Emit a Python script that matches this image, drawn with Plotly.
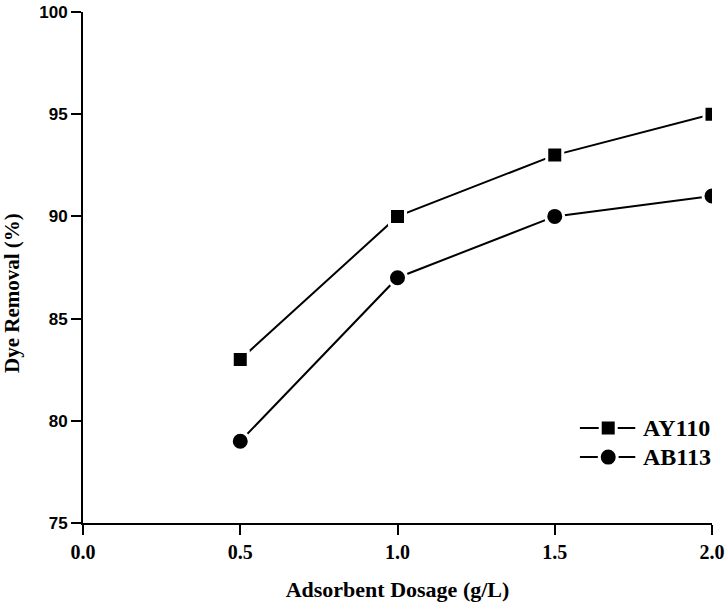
import plotly.graph_objects as go

dosage = [0.5, 1.0, 1.5, 2.0]
ay110 = [83, 90, 93, 95]
ab113 = [79, 87, 90, 91]
series_names = ["AY110", "AB113"]
series_symbols = ["square", "circle"]

serif = "Liberation Serif, Times New Roman, serif"
sans = "Liberation Sans, Arial, sans-serif"

fig = go.Figure()
fig.add_trace(go.Scatter(
    x=dosage, y=ay110, name=series_names[0], mode="lines+markers",
    line=dict(color="black", width=2),
    marker=dict(symbol="square", size=16, color="black",
                line=dict(color="white", width=3)),
))
fig.add_trace(go.Scatter(
    x=dosage, y=ab113, name=series_names[1], mode="lines+markers",
    line=dict(color="black", width=2),
    marker=dict(symbol="circle", size=18, color="black",
                line=dict(color="white", width=3)),
))

# custom legend (layout elements in paper coordinates)
legend_rows_y = [0.186, 0.129]
line_x0, line_x1, mark_x, text_x = 0.790, 0.878, 0.835, 0.887
shapes = []
annotations = []
for name, sym, ly in zip(series_names, series_symbols, legend_rows_y):
    shapes.append(dict(type="line", xref="paper", yref="paper",
                       x0=line_x0, x1=line_x1, y0=ly, y1=ly,
                       line=dict(color="black", width=2)))
    half = 8 if sym == "square" else 9
    shapes.append(dict(type="rect" if sym == "square" else "circle",
                       xref="paper", yref="paper",
                       xsizemode="pixel", ysizemode="pixel",
                       xanchor=mark_x, yanchor=ly,
                       x0=-half, x1=half, y0=-half, y1=half,
                       fillcolor="black", line=dict(color="white", width=3)))
    annotations.append(dict(text=name, xref="paper", yref="paper",
                            x=text_x, y=ly, xanchor="left", yanchor="middle",
                            showarrow=False,
                            font=dict(family=serif, size=24, color="black", weight="bold")))

annotations.append(dict(
    text="Dye Removal (%)", textangle=-90,
    xref="paper", yref="paper", x=-0.113, y=0.450,
    xanchor="center", yanchor="middle", showarrow=False,
    font=dict(family=serif, size=21, color="black", weight="bold"),
))

fig.update_layout(
    width=727, height=604,
    margin=dict(l=83, r=15, t=12, b=81),
    paper_bgcolor="white", plot_bgcolor="white",
    showlegend=False,
    xaxis=dict(
        range=[0, 2], dtick=0.5, tick0=0, tickformat=".1f", automargin=False,
        showline=True, linecolor="black", linewidth=2,
        ticks="outside", ticklen=10, tickwidth=2, tickcolor="black",
        showgrid=False, zeroline=False,
        tickfont=dict(family=serif, size=20, color="black", weight="bold"),
        title=dict(text="Adsorbent Dosage (g/L)", standoff=20,
                   font=dict(family=serif, size=22, color="black", weight="bold")),
    ),
    yaxis=dict(
        range=[75, 100], dtick=5, tick0=75, automargin=False,
        showline=True, linecolor="black", linewidth=2,
        ticks="outside", ticklen=10, tickwidth=2, tickcolor="black",
        showgrid=False, zeroline=False,
        tickfont=dict(family=sans, size=17, color="black", weight="bold"),
    ),
    shapes=shapes,
    annotations=annotations,
)

fig.write_html("out.html",
               config={"displayModeBar": False},
               post_script="document.body.style.margin='0px';document.body.style.overflow='hidden';")
